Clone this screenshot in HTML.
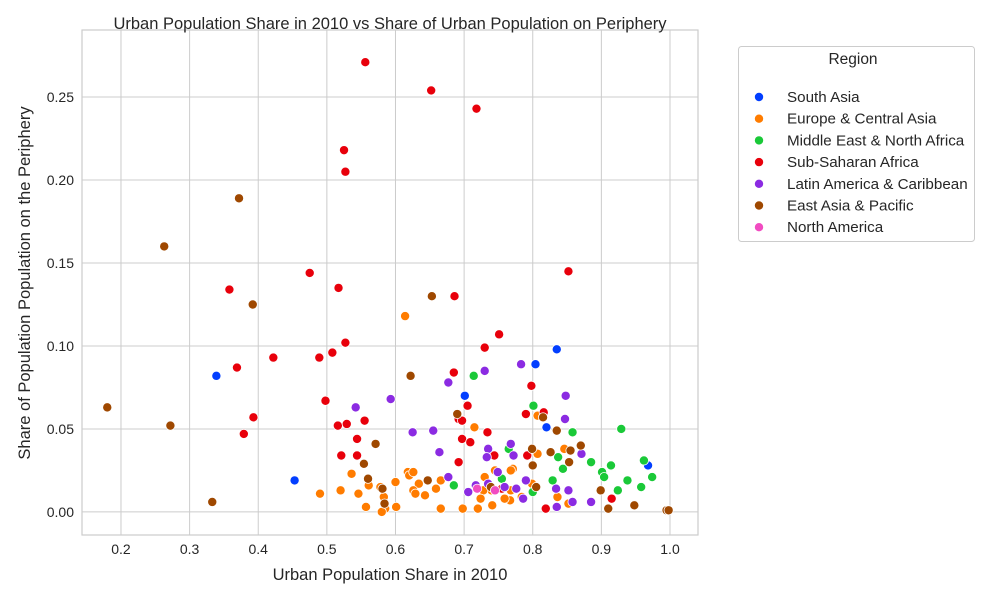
<!DOCTYPE html>
<html><head><meta charset="utf-8"><style>
body{margin:0;background:#fff;font-family:"Liberation Sans","DejaVu Sans",sans-serif;}
svg text{font-family:"Liberation Sans","DejaVu Sans",sans-serif;fill:#262626;}
</style></head><body>
<svg id="chart" width="1000" height="600" viewBox="0 0 1000 600"></svg>
<script>
const regions = ["South Asia","Europe & Central Asia","Middle East & North Africa","Sub-Saharan Africa","Latin America & Caribbean","East Asia & Pacific","North America"];
const colors = ["#023eff","#ff7c00","#1ac938","#e8000b","#8b2be2","#9f4800","#f14cc1"];
const xTicks = [0.2,0.3,0.4,0.5,0.6,0.7,0.8,0.9,1.0];
const xTickLabels = ["0.2","0.3","0.4","0.5","0.6","0.7","0.8","0.9","1.0"];
const yTicks = [0,0.05,0.10,0.15,0.20,0.25];
const yTickLabels = ["0.00","0.05","0.10","0.15","0.20","0.25"];
const southAsiaX = [0.339,0.453,0.835,0.804,0.701,0.820,0.968];
const southAsiaY = [0.082,0.019,0.098,0.089,0.070,0.051,0.028];
const europeX = [0.614,0.807,0.715,0.807,0.846,0.852,0.836,0.799,0.784,0.767,0.759,0.768,0.740,0.745,0.771,0.768,0.730,0.728,0.724,0.741,0.720,0.698,0.666,0.666,0.659,0.643,0.634,0.626,0.629,0.618,0.620,0.626,0.600,0.601,0.578,0.583,0.585,0.580,0.557,0.561,0.546,0.536,0.520,0.490];
const europeY = [0.118,0.058,0.051,0.035,0.038,0.005,0.009,0.017,0.009,0.007,0.008,0.013,0.013,0.025,0.026,0.025,0.021,0.013,0.008,0.004,0.002,0.002,0.002,0.019,0.014,0.010,0.017,0.013,0.011,0.024,0.022,0.024,0.018,0.003,0.015,0.009,0.002,0.000,0.003,0.016,0.011,0.023,0.013,0.011];
const menaX = [0.714,0.801,0.858,0.929,0.765,0.837,0.844,0.885,0.914,0.901,0.904,0.962,0.974,0.938,0.958,0.924,0.829,0.800,0.755,0.685];
const menaY = [0.082,0.064,0.048,0.050,0.038,0.033,0.026,0.030,0.028,0.024,0.021,0.031,0.021,0.019,0.015,0.013,0.019,0.012,0.020,0.016];
const ssaX = [0.556,0.652,0.718,0.525,0.527,0.475,0.852,0.358,0.422,0.369,0.393,0.379,0.517,0.686,0.751,0.527,0.508,0.489,0.730,0.685,0.498,0.798,0.705,0.790,0.816,0.516,0.529,0.555,0.692,0.697,0.734,0.544,0.697,0.709,0.521,0.544,0.692,0.744,0.792,0.755,0.915,0.819];
const ssaY = [0.271,0.254,0.243,0.218,0.205,0.144,0.145,0.134,0.093,0.087,0.057,0.047,0.135,0.130,0.107,0.102,0.096,0.093,0.099,0.084,0.067,0.076,0.064,0.059,0.060,0.052,0.053,0.055,0.056,0.055,0.048,0.044,0.044,0.042,0.034,0.034,0.030,0.034,0.034,0.014,0.008,0.002];
const latamX = [0.783,0.730,0.677,0.542,0.593,0.848,0.847,0.625,0.655,0.664,0.735,0.768,0.772,0.733,0.871,0.885,0.858,0.835,0.834,0.852,0.790,0.786,0.776,0.759,0.749,0.735,0.717,0.706,0.677];
const latamY = [0.089,0.085,0.078,0.063,0.068,0.070,0.056,0.048,0.049,0.036,0.038,0.041,0.034,0.033,0.035,0.006,0.006,0.003,0.014,0.013,0.019,0.008,0.014,0.015,0.024,0.017,0.016,0.012,0.021];
const eapX = [0.372,0.263,0.392,0.180,0.272,0.333,0.653,0.622,0.690,0.815,0.835,0.571,0.799,0.826,0.855,0.870,0.853,0.800,0.899,0.910,0.948,0.995,0.998,0.805,0.739,0.647,0.584,0.581,0.560,0.554];
const eapY = [0.189,0.160,0.125,0.063,0.052,0.006,0.130,0.082,0.059,0.057,0.049,0.041,0.038,0.036,0.037,0.040,0.030,0.028,0.013,0.002,0.004,0.001,0.001,0.015,0.015,0.019,0.005,0.014,0.020,0.029];
const naX = [0.745,0.719];
const naY = [0.013,0.014];
const seriesX = [southAsiaX,europeX,menaX,ssaX,latamX,eapX,naX];
const seriesY = [southAsiaY,europeY,menaY,ssaY,latamY,eapY,naY];

const L=82,R=698,T=30,B=535;
const xMin=0.1432,xMax=1.0408,yMin=-0.0139,yMax=0.2904;
const sx=v=>L+(v-xMin)/(xMax-xMin)*(R-L);
const sy=v=>B-(v-yMin)/(yMax-yMin)*(B-T);
const svg=document.getElementById('chart');
const NS='http://www.w3.org/2000/svg';
function mk(tag,attrs,parent){const e=document.createElementNS(NS,tag);for(const k in attrs)e.setAttribute(k,attrs[k]);(parent||svg).appendChild(e);return e;}

const grid=mk('g',{});


xTicks.forEach((t,i)=>{
  const x=sx(t);
  const l=mk('line',{x1:x,x2:x,y1:T,y2:B,stroke:'#cccccc','stroke-width':1},grid);
  
  
  const tx=mk('text',{x:x,y:B+19,'text-anchor':'middle','font-size':14});
  tx.textContent=xTickLabels[i];
  
  
});
yTicks.forEach((t,i)=>{
  const y=sy(t);
  const l=mk('line',{x1:L,x2:R,y1:y,y2:y,stroke:'#cccccc','stroke-width':1},grid);
  
  
  const tx=mk('text',{x:L-8,y:y+5,'text-anchor':'end','font-size':14});
  tx.textContent=yTickLabels[i];
  
  
});
const frame=mk('rect',{x:L,y:T,width:R-L,height:B-T,fill:'none',stroke:'#cccccc','stroke-width':1.2});



seriesX.forEach((xs,s)=>{
  const g=mk('g',{});
  
  
  xs.forEach((xv,i)=>{
    const c=mk('circle',{cx:sx(xv),cy:sy(seriesY[s][i]),r:4.6,fill:colors[s],stroke:'#ffffff','stroke-width':0.8},g);
    
    
  });
});

const title=mk('text',{x:390,y:29,'text-anchor':'middle','font-size':16.5});
title.textContent='Urban Population Share in 2010 vs Share of Urban Population on Periphery';


const xl=mk('text',{x:390,y:580,'text-anchor':'middle','font-size':16.5});
xl.textContent='Urban Population Share in 2010';


const yl=mk('text',{x:30,y:283,'text-anchor':'middle','font-size':16.5,transform:'rotate(-90 30 283)'});
yl.textContent='Share of Population Population on the Periphery';



const leg=mk('g',{});


mk('rect',{x:738.5,y:46.5,width:236,height:195,rx:3,fill:'#fff',stroke:'#cccccc','stroke-width':1},leg);
const lt=mk('text',{x:853,y:64,'text-anchor':'middle','font-size':15.5},leg);
lt.textContent='Region';


regions.forEach((r,i)=>{
  const y=97+i*21.7;
  const e=mk('g',{},leg);
  
  
  mk('circle',{cx:759,cy:y,r:4.6,fill:colors[i],stroke:'#fff','stroke-width':0.8},e);
  const t=mk('text',{x:787,y:y+5,'font-size':15.2},e);
  t.textContent=r;
});
</script>
</body></html>
